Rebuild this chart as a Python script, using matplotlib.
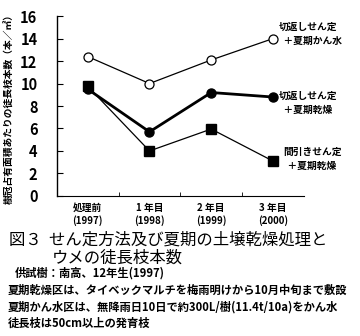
import matplotlib
matplotlib.use('Agg')
import matplotlib.pyplot as plt

plt.rcParams['font.family'] = ['Noto Sans CJK JP', 'DejaVu Sans']

periods = ['処理前\n(1997)', '1 年目\n(1998)', '2 年目\n(1999)', '3 年目\n(2000)']
cut_water = [12.4, 10.0, 12.1, 14.0]
cut_dry = [9.5, 5.7, 9.2, 8.8]
thin_dry = [9.75, 4.0, 5.95, 3.1]
series_labels = ['切返しせん定\n  ＋夏期かん水', '切返しせん定\n  ＋夏期乾燥', '間引きせん定\n  ＋夏期乾燥']
yticks = [0, 2, 4, 6, 8, 10, 12, 14, 16]

fig = plt.figure(figsize=(3.6, 3.36), dpi=100)
ax = fig.add_axes([0.158, 0.417, 0.686, 0.535])

x = [0.5, 1.5, 2.5, 3.5]
ax.plot(x, cut_water, color='black', lw=0.9, marker='o', ms=6.5,
        mfc='white', mec='black', mew=0.9, clip_on=False)
ax.plot(x, cut_dry, color='black', lw=2.0, marker='o', ms=6.5,
        mfc='black', mec='black', clip_on=False)
ax.plot(x, thin_dry, color='black', lw=0.9, marker='s', ms=7.5,
        mfc='black', mec='black', clip_on=False)

ax.set_xlim(0, 4)
ax.set_ylim(0, 16)
ax.set_yticks(yticks)
ax.set_yticklabels([str(v) for v in yticks], fontsize=10.5, fontweight='bold')
ax.set_xticks([1, 2, 3])
ax.set_xticklabels([])
ax.set_xticks(x, minor=True)
ax.set_xticklabels(periods, minor=True, fontsize=7, fontweight='bold', linespacing=1.3)
ax.tick_params(axis='x', which='minor', length=0, pad=5)
ax.tick_params(axis='x', which='major', direction='in', length=3, width=0.6)
ax.tick_params(axis='y', direction='in', length=4, width=0.8, pad=14)
ax.spines['top'].set_visible(False)
ax.spines['right'].set_visible(False)
ax.spines['left'].set_linewidth(1.0)
ax.spines['bottom'].set_linewidth(0.8)
ax.set_ylabel('樹冠占有面積あたりの徒長枝本数（本／㎡）', fontsize=7, fontweight='bold', labelpad=4)

label_y = [cut_water[-1], cut_dry[-1], thin_dry[-1]]
offsets = [0.4, -0.5, 0.2]
label_x = [3.6, 3.6, 3.66]
for lab, lx, yv, off in zip(series_labels, label_x, label_y, offsets):
    ax.text(lx, yv + off, lab, fontsize=7, fontweight='bold', va='center',
            ha='left', linespacing=1.5, clip_on=False)

fig.text(0.025, 0.285, '図３  せん定方法及び夏期の土壌乾燥処理と', fontsize=11.8,
         ha='left', va='center')
fig.text(0.145, 0.232, 'ウメの徒長枝本数', fontsize=11.8, ha='left', va='center')
notes = ['供試樹：南高、12年生(1997)',
         '夏期乾燥区は、タイベックマルチを梅雨明けから10月中旬まで敷設',
         '夏期かん水区は、無降雨日10日で約300L/樹(11.4t/10a)をかん水',
         '徒長枝は50cm以上の発育枝']
note_x = [0.042, 0.022, 0.022, 0.022]
note_y = [0.188, 0.137, 0.087, 0.038]
for t, nx, ny in zip(notes, note_x, note_y):
    fig.text(nx, ny, t, fontsize=8.1, fontweight='bold', ha='left', va='center')

fig.savefig('out.png', dpi=100)
